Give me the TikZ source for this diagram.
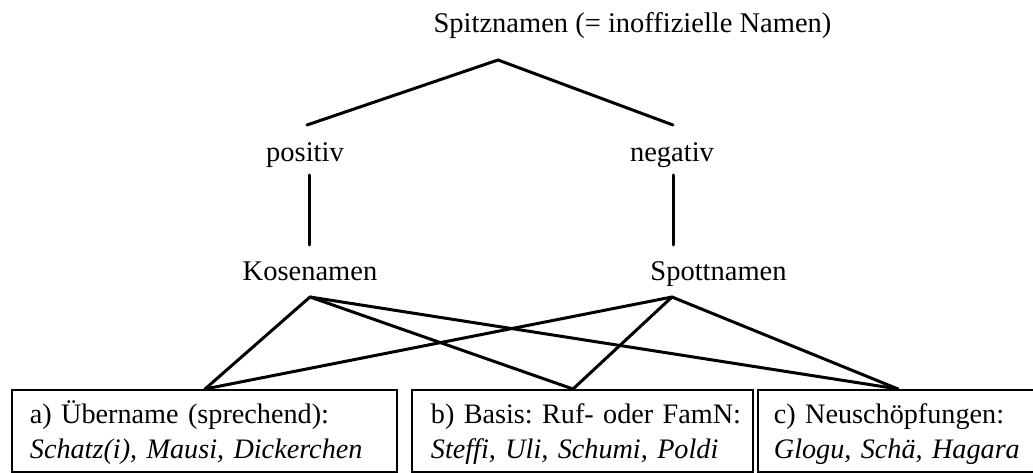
\documentclass[tikz,border=0pt]{standalone}
\usepackage{fontspec}
\setmainfont{Liberation Serif}
\frenchspacing
\begin{document}
\begin{tikzpicture}[x=1pt,y=-1pt,
  lbl/.style={inner sep=0pt, anchor=base, font=\fontsize{28.5}{35}\selectfont},
  edge/.style={line width=3pt, line cap=round},
  catbox/.style={draw, line width=1.8pt, anchor=north west, minimum height=82pt,
     align=left, inner ysep=0pt, font=\fontsize{28.2}{35}\selectfont}]
\useasboundingbox (0,0) rectangle (1033,473);
\fill[white] (0,0) rectangle (1033,473);
% labels
\node[lbl] (title) at (632.5,33) {Spitznamen (= inoffizielle Namen)};
\node[lbl] (pos) at (305,162) {positiv};
\node[lbl] (neg) at (672,162) {negativ};
\node[lbl] (kose) at (310,280) {Kosenamen};
\node[lbl] (spott) at (718.5,280) {Spottnamen};
% boxes
\node[catbox, minimum width=385pt, text width=349pt, inner xsep=18pt] (ba) at (11,389)
  {\rule{0pt}{26pt}\mbox{a) Übername (sprechend):}\\ \mbox{\textit{Schatz(i), Mausi, Dickerchen}}\rule[-5pt]{0pt}{5pt}};
\node[catbox, minimum width=341pt, text width=303pt, inner xsep=19pt] (bb) at (411,389)
  {\rule{0pt}{26pt}\mbox{b) Basis: Ruf- oder FamN:}\\ \mbox{\textit{Steffi, Uli, Schumi, Poldi}}\rule[-5pt]{0pt}{5pt}};
\node[catbox, minimum width=290pt, text width=258pt, inner xsep=16pt] (bc) at (757,389)
  {\rule{0pt}{26pt}\mbox{c) Neuschöpfungen:}\\ \mbox{\textit{Glogu, Schä, Hagara}}\rule[-5pt]{0pt}{5pt}};
% connector points
\coordinate (tJ) at (498,60);
\coordinate (posT) at (307,125);
\coordinate (negT) at (673,125);
\coordinate (posB) at (309,175);
\coordinate (koseT) at (309,245);
\coordinate (negB) at (673,175);
\coordinate (spottT) at (673,245);
\coordinate (koseJ) at (310,297);
\coordinate (spottJ) at (672,297);
\coordinate (aT) at (205,389);
\coordinate (bT) at (573,389);
\coordinate (cT) at (898,389);
% connectors
\draw[edge, line join=miter] (posT) -- (tJ) -- (negT);
\draw[edge] (posB) -- (koseT);
\draw[edge] (negB) -- (spottT);
\draw[edge] (koseJ) -- (aT);
\draw[edge] (koseJ) -- (bT);
\draw[edge] (koseJ) -- (cT);
\draw[edge] (spottJ) -- (aT);
\draw[edge] (spottJ) -- (bT);
\draw[edge] (spottJ) -- (cT);
\end{tikzpicture}
\end{document}
